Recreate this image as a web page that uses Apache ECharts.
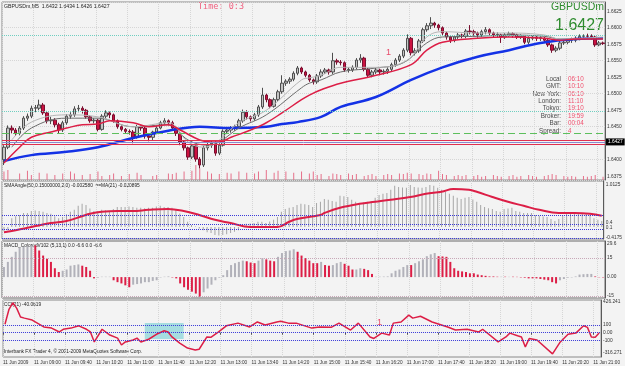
<!DOCTYPE html>
<html>
<head>
<meta charset="utf-8">
<title>GBPUSDm,M5</title>
<script src="https://cdn.jsdelivr.net/npm/echarts@6.0.0/dist/echarts.min.js"></script>
<style>
  html, body { margin: 0; padding: 0; background: #f3f3f3; }
  #chart { width: 625px; height: 366px; }
</style>
</head>
<body>
<div id="chart"></div>
<script>
// ---- data ----
var timeLabels = ['11 Jun 2009', '11 Jun 09:00', '11 Jun 09:40', '11 Jun 10:20', '11 Jun 11:00',
  '11 Jun 11:40', '11 Jun 12:20', '11 Jun 13:00', '11 Jun 13:40', '11 Jun 14:20', '11 Jun 15:00',
  '11 Jun 15:40', '11 Jun 16:20', '11 Jun 17:00', '11 Jun 17:40', '11 Jun 18:20', '11 Jun 19:00',
  '11 Jun 19:40', '11 Jun 20:20', '11 Jun 21:00'];

// [open, close, low, high]
var candles = [
  [1.6400,1.6419,1.6392,1.6422],[1.6419,1.6448,1.6416,1.6452],[1.6448,1.6445,1.6440,1.6452],[1.6445,1.6440,1.6436,1.6448],
  [1.6440,1.6448,1.6437,1.6451],[1.6448,1.6463,1.6445,1.6466],[1.6463,1.6466,1.6459,1.6470],[1.6466,1.6478,1.6463,1.6482],
  [1.6478,1.6479,1.6472,1.6483],[1.6478,1.6483,1.6475,1.6491],[1.6483,1.6471,1.6468,1.6486],[1.6471,1.6459,1.6455,1.6474],
  [1.6459,1.6460,1.6454,1.6465],[1.6460,1.6453,1.6449,1.6463],[1.6453,1.6445,1.6440,1.6456],[1.6445,1.6456,1.6442,1.6459],
  [1.6456,1.6466,1.6453,1.6469],[1.6466,1.6468,1.6462,1.6472],[1.6468,1.6477,1.6465,1.6481],[1.6477,1.6478,1.6472,1.6483],
  [1.6478,1.6475,1.6470,1.6481],[1.6475,1.6465,1.6462,1.6477],[1.6465,1.6459,1.6456,1.6467],[1.6459,1.6460,1.6455,1.6463],
  [1.6460,1.6446,1.6443,1.6462],[1.6446,1.6466,1.6444,1.6469],[1.6466,1.6471,1.6462,1.6475],[1.6471,1.6468,1.6463,1.6473],
  [1.6468,1.6459,1.6456,1.6470],[1.6459,1.6450,1.6447,1.6461],[1.6450,1.6446,1.6443,1.6452],[1.6446,1.6443,1.6439,1.6448],
  [1.6443,1.6442,1.6438,1.6446],[1.6442,1.6434,1.6425,1.6445],[1.6434,1.6450,1.6432,1.6453],[1.6450,1.6448,1.6444,1.6452],
  [1.6448,1.6436,1.6432,1.6450],[1.6436,1.6434,1.6428,1.6439],[1.6434,1.6442,1.6430,1.6444],[1.6442,1.6448,1.6440,1.6451],
  [1.6448,1.6456,1.6446,1.6459],[1.6456,1.6459,1.6453,1.6463],[1.6459,1.6456,1.6452,1.6461],[1.6456,1.6448,1.6445,1.6459],
  [1.6448,1.6440,1.6436,1.6450],[1.6440,1.6427,1.6422,1.6442],[1.6427,1.6418,1.6414,1.6429],[1.6418,1.6404,1.6400,1.6420],
  [1.6404,1.6421,1.6401,1.6424],[1.6421,1.6401,1.6397,1.6423],[1.6401,1.6392,1.6387,1.6404],[1.6392,1.6418,1.6389,1.6421],
  [1.6418,1.6422,1.6414,1.6426],[1.6422,1.6425,1.6418,1.6429],[1.6425,1.6410,1.6406,1.6428],[1.6410,1.6422,1.6407,1.6425],
  [1.6422,1.6443,1.6420,1.6446],[1.6443,1.6445,1.6439,1.6448],[1.6445,1.6448,1.6441,1.6451],[1.6448,1.6450,1.6444,1.6453],
  [1.6450,1.6459,1.6447,1.6462],[1.6459,1.6472,1.6456,1.6476],[1.6472,1.6465,1.6461,1.6475],[1.6465,1.6462,1.6458,1.6467],
  [1.6462,1.6468,1.6459,1.6471],[1.6468,1.6480,1.6465,1.6483],[1.6480,1.6498,1.6477,1.6509],[1.6498,1.6491,1.6487,1.6500],
  [1.6491,1.6481,1.6478,1.6493],[1.6481,1.6491,1.6479,1.6494],[1.6491,1.6503,1.6488,1.6506],[1.6503,1.6516,1.6500,1.6528],
  [1.6516,1.6519,1.6512,1.6522],[1.6519,1.6522,1.6515,1.6525],[1.6522,1.6531,1.6519,1.6534],[1.6531,1.6539,1.6528,1.6542],
  [1.6539,1.6533,1.6530,1.6541],[1.6533,1.6528,1.6525,1.6535],[1.6528,1.6521,1.6518,1.6530],[1.6521,1.6518,1.6514,1.6523],
  [1.6518,1.6527,1.6515,1.6530],[1.6527,1.6533,1.6524,1.6537],[1.6533,1.6536,1.6530,1.6539],[1.6536,1.6533,1.6529,1.6538],
  [1.6533,1.6550,1.6530,1.6562],[1.6550,1.6548,1.6544,1.6553],[1.6548,1.6547,1.6543,1.6551],[1.6547,1.6536,1.6533,1.6549],
  [1.6536,1.6537,1.6532,1.6540],[1.6536,1.6540,1.6533,1.6543],[1.6540,1.6551,1.6537,1.6554],[1.6551,1.6554,1.6547,1.6560],
  [1.6554,1.6537,1.6534,1.6556],[1.6537,1.6528,1.6524,1.6539],[1.6528,1.6533,1.6525,1.6536],[1.6533,1.6536,1.6530,1.6539],
  [1.6536,1.6533,1.6528,1.6538],[1.6533,1.6534,1.6529,1.6537],[1.6534,1.6537,1.6530,1.6540],[1.6537,1.6544,1.6534,1.6547],
  [1.6544,1.6551,1.6541,1.6554],[1.6551,1.6557,1.6548,1.6560],[1.6557,1.6566,1.6554,1.6569],[1.6566,1.6584,1.6563,1.6590],
  [1.6584,1.6562,1.6558,1.6586],[1.6562,1.6565,1.6558,1.6569],[1.6565,1.6580,1.6562,1.6583],[1.6580,1.6597,1.6577,1.6600],
  [1.6597,1.6603,1.6594,1.6607],[1.6603,1.6607,1.6598,1.6616],[1.6607,1.6604,1.6600,1.6609],[1.6604,1.6600,1.6596,1.6606],
  [1.6600,1.6592,1.6589,1.6602],[1.6592,1.6586,1.6582,1.6594],[1.6586,1.6581,1.6577,1.6588],[1.6581,1.6586,1.6578,1.6589],
  [1.6586,1.6589,1.6583,1.6592],[1.6589,1.6587,1.6584,1.6591],[1.6587,1.6595,1.6584,1.6598],[1.6595,1.6594,1.6590,1.6604],
  [1.6594,1.6592,1.6588,1.6597],[1.6592,1.6589,1.6585,1.6594],[1.6589,1.6594,1.6586,1.6597],[1.6594,1.6597,1.6590,1.6601],
  [1.6597,1.6592,1.6589,1.6599],[1.6592,1.6589,1.6585,1.6594],[1.6589,1.6590,1.6585,1.6593],[1.6589,1.6586,1.6577,1.6591],
  [1.6586,1.6589,1.6583,1.6592],[1.6589,1.6591,1.6586,1.6594],[1.6591,1.6589,1.6585,1.6593],[1.6589,1.6586,1.6583,1.6591],
  [1.6586,1.6587,1.6583,1.6590],[1.6587,1.6578,1.6575,1.6589],[1.6578,1.6584,1.6575,1.6587],[1.6584,1.6586,1.6581,1.6589],
  [1.6586,1.6584,1.6580,1.6588],[1.6584,1.6585,1.6580,1.6587],[1.6584,1.6581,1.6577,1.6586],[1.6581,1.6574,1.6571,1.6583],
  [1.6574,1.6566,1.6562,1.6576],[1.6566,1.6569,1.6563,1.6572],[1.6569,1.6577,1.6566,1.6580],[1.6577,1.6578,1.6574,1.6582],
  [1.6578,1.6581,1.6575,1.6584],[1.6581,1.6582,1.6577,1.6585],[1.6581,1.6584,1.6578,1.6587],[1.6584,1.6587,1.6581,1.6590],
  [1.6587,1.6588,1.6583,1.6590],[1.6587,1.6587,1.6584,1.6591],[1.6587,1.6586,1.6582,1.6590],[1.6586,1.6574,1.6571,1.6588],
  [1.6574,1.6577,1.6572,1.6580],[1.6577,1.6576,1.6574,1.6579]
];

// moving averages, [bar, price]
var maBlue = [[0,1.6398],[7,1.6407],[16,1.6412],[24,1.6419],[33,1.6433],[42,1.6444],[50,1.6450],[58,1.6448],[67,1.6450],
  [71,1.6454],[75,1.6457],[81,1.6465],[86,1.6480],[95,1.6495],[104,1.6521],[112,1.6540],[121,1.6556],[129,1.6566],
  [137,1.6577],[146,1.6583],[153,1.6584]];
var maRed = [[0,1.6395],[4,1.6419],[7,1.6434],[12,1.6442],[16,1.6448],[20,1.6453],[24,1.6454],[27,1.6459],[33,1.6456],
  [37,1.6450],[42,1.6453],[45,1.6445],[50,1.6430],[53,1.6427],[55,1.6427],[58,1.6434],[63,1.6445],[67,1.6456],[71,1.6471],
  [76,1.6491],[78,1.6498],[81,1.6506],[86,1.6516],[95,1.6528],[104,1.6544],[108,1.6566],[112,1.6578],[121,1.6584],
  [129,1.6586],[138,1.6584],[142,1.6581],[146,1.6583],[153,1.6583]];
var maDark = [[2,1.6419],[7,1.6448],[16,1.6463],[24,1.6463],[33,1.6450],[42,1.6453],[47,1.6430],[52,1.6422],[55,1.6427],
  [60,1.6448],[67,1.6468],[76,1.6509],[78,1.6516],[81,1.6521],[86,1.6533],[95,1.6539],[102,1.6547],[108,1.6577],
  [112,1.6586],[121,1.6587],[129,1.6589],[138,1.6587],[142,1.6583],[153,1.6584]];
var maLight = [[2,1.6430],[7,1.6457],[16,1.6468],[24,1.6465],[33,1.6450],[42,1.6456],[47,1.6427],[51,1.6419],[55,1.6430],
  [60,1.6456],[67,1.6475],[76,1.6521],[78,1.6524],[81,1.6528],[86,1.6540],[95,1.6540],[103,1.6551],[108,1.6586],
  [112,1.6594],[121,1.6592],[129,1.6592],[138,1.6589],[142,1.6583],[153,1.6586]];

// tick volume, [bar, ticks]
var volume = [[0,66],[1,79],[4,52],[6,73],[7,39],[9,58],[11,52],[13,39],[15,52],[17,66],[18,52],[20,39],[22,47],[24,66],
  [25,31],[27,39],[28,52],[30,31],[32,47],[34,58],[35,39],[38,31],[39,39],[42,52],[43,47],[44,58],[46,66],[48,73],[49,118],
  [50,92],[52,66],[53,52],[55,47],[57,58],[58,52],[60,66],[62,58],[64,52],[65,66],[67,79],[69,58],[70,73],[72,66],[74,58],
  [76,66],[78,52],[79,66],[80,39],[81,47],[83,31],[84,52],[85,47],[86,39],[88,52],[89,39],[90,47],[92,31],[93,39],[94,47],
  [95,31],[97,39],[98,47],[99,39],[101,52],[102,47],[103,58],[104,52],[106,47],[107,39],[108,52],[109,47],[111,73],[112,47],
  [113,39],[115,31],[116,39],[117,31],[118,39],[120,31],[121,39],[122,26],[123,31],[125,39],[126,31],[127,26],[129,31],
  [130,39],[131,26],[132,31],[134,39],[135,31],[136,26],[138,31],[139,39],[140,47],[141,39],[143,31],[144,26],[145,31],
  [146,26],[148,31],[149,26],[150,31],[151,39],[153,26]];

// SMAAngle histogram (one per bar) and its MA line
var smaHist = [-0.10,-0.08,0.22,0.27,0.30,0.35,0.35,0.40,0.41,0.40,0.38,0.35,0.33,0.27,0.22,0.25,0.32,0.38,0.43,0.53,
  0.58,0.55,0.46,0.40,0.40,0.43,0.42,0.40,0.45,0.50,0.50,0.50,0.51,0.50,0.48,0.48,0.47,0.48,0.48,0.51,
  0.53,0.50,0.50,0.48,0.43,0.34,0.25,0.13,0.05,0.01,-0.04,-0.08,-0.13,-0.15,-0.20,-0.21,-0.20,-0.18,-0.15,-0.12,
  -0.08,0.01,0.08,0.09,0.10,0.13,0.13,0.10,0.14,0.18,0.25,0.38,0.45,0.48,0.50,0.55,0.58,0.57,0.55,0.50,
  0.60,0.63,0.70,0.68,0.65,0.63,0.78,0.77,0.75,0.68,0.63,0.60,0.61,0.63,0.65,0.73,0.80,0.83,0.85,0.93,
  1.03,1.00,0.99,0.98,1.05,1.00,0.99,0.98,1.00,1.05,1.03,0.98,0.93,0.88,0.83,0.78,0.73,0.70,0.73,0.75,
  0.69,0.63,0.55,0.50,0.47,0.45,0.40,0.38,0.45,0.46,0.48,0.40,0.38,0.35,0.35,0.35,0.30,0.28,0.26,0.25,
  0.20,0.15,0.20,0.28,0.35,0.35,0.35,0.35,0.34,0.33,0.30,0.22,0.18,0.15];
var smaLine = [[0,-0.13],[3,-0.08],[7,0],[12,0.10],[16,0.15],[20,0.27],[22,0.33],[25,0.38],[29,0.40],[33,0.40],[37,0.43],
  [42,0.45],[46,0.40],[50,0.30],[54,0.18],[58,0.10],[63,0],[67,0],[70,0],[73,0.13],[75,0.20],[81,0.30],[82,0.35],[86,0.48],
  [91,0.58],[95,0.63],[99,0.68],[104,0.75],[108,0.83],[112,0.88],[115,0.95],[119,0.93],[121,0.88],[125,0.75],[129,0.63],
  [133,0.53],[137,0.43],[142,0.35],[146,0.35],[150,0.33],[153,0.28]];

// MACD_ColoredV102 histogram, split by colour
var macdUp = [[0,8],[1,12],[2,16],[3,20],[4,23],[5,24],[6,24.5],[7,25],[15,5],[16,6],[17,9],[18,9.5],[19,10],[24,-0.5],
  [25,0.3],[26,0.3],[27,0.3],[33,-6],[34,-5.5],[35,-5],[36,-4],[37,-4],[38,-3],[39,-2.5],[40,-0.3],[41,0.3],[42,0.5],
  [51,-12],[52,-9],[53,-6],[54,-2.5],[55,-0.5],[56,1.5],[57,5.5],[58,9.5],[59,11],[60,12],[61,13],[65,13],[66,15],[70,16],
  [71,19],[72,20.5],[73,21],[74,22],[81,12],[84,9.5],[85,11],[86,12],[90,6],[91,7],[95,0.3],[96,0.3],[97,0.4],[98,0.5],
  [99,3],[100,5],[101,6],[102,8],[103,9.5],[105,11],[106,12.5],[107,14],[108,16.5],[109,18],[110,19],[127,0.3],[129,0.2],
  [142,-2.5],[143,-1.5],[144,-0.5],[145,-0.3],[146,0.5],[147,2],[148,2.3],[149,2.5],[150,2.5]];
var macdDown = [[8,25],[9,21],[10,17],[11,14.5],[12,12],[13,7],[14,4],[20,9],[21,8],[22,5],[23,-1],[28,-2.5],[29,-4],
  [30,-5],[31,-6.5],[32,-8],[43,-0.3],[44,-1],[45,-5],[46,-8],[47,-10],[48,-11.5],[49,-13],[50,-15.5],[62,12.5],[63,11.5],
  [64,11],[67,14],[68,13],[69,12.5],[75,20],[76,17],[77,15],[78,13],[79,11],[80,11],[82,9.5],[83,9],[87,10.5],[88,9],
  [89,6],[92,6.5],[93,5.5],[94,2.5],[104,9.5],[111,16.5],[112,16.3],[113,16],[114,12],[115,7],[116,5],[117,4.5],[118,4],
  [119,3],[120,3],[121,2],[122,1.5],[123,1],[124,0.5],[125,0.5],[126,0.3],[128,0.3],[130,0.3],[131,0.2],[132,-0.3],
  [133,-0.5],[134,-1],[135,-1],[136,-1],[137,-1.5],[138,-2],[139,-2.5],[140,-4],[141,-5],[151,0.5],[152,-0.2],[153,-0.3]];

// CCI(21)
var cci = [[0,110],[1,300],[2,390],[3,320],[4,205],[5,190],[7,165],[10,75],[12,60],[14,10],[15,45],[17,60],[19,90],
  [21,45],[22,10],[23,-120],[25,45],[27,-30],[29,-70],[30,-160],[31,-120],[33,-95],[34,-70],[35,-120],[37,-85],[39,-20],
  [41,25],[42,10],[43,-55],[45,-135],[47,-200],[49,-225],[50,-215],[52,-55],[53,-60],[55,10],[57,90],[60,125],[63,75],
  [65,140],[67,100],[70,140],[71,150],[73,125],[75,125],[79,60],[81,75],[84,70],[86,125],[89,35],[91,125],[94,-55],
  [95,-75],[97,-5],[99,-30],[100,125],[102,140],[104,230],[105,190],[107,215],[110,140],[114,75],[116,35],[119,45],
  [122,10],[123,45],[127,-120],[129,-55],[130,-5],[132,-40],[133,-55],[134,-185],[135,-75],[137,-95],[141,-275],
  [143,-120],[145,-20],[147,-5],[149,90],[150,70],[151,-55],[152,-60],[153,-5]];

// price levels drawn across the main window
var levelsCyan = [1.6589, 1.6474];
var levelGreen = 1.6440;
var levelsRed = [1.6430, 1.6424];
var lastPrice = 1.6427;

// right axis labels
var priceTicks = [1.6375, 1.6400, 1.6450, 1.6475, 1.6500, 1.6525, 1.6550, 1.6575, 1.6600, 1.6625];
var smaTicks = [1.05, 0.1, -0.025, -0.275];
var smaTickText = ['1.0125', '0.4', '0.1', '-0.4175'];
var macdTicks = [26.4, 15, 0, -15];
var macdTickText = ['29.6', '15', '0.00', '-15'];
var cciTicks = [400, 100, 0, -100, -264];
var cciTickText = ['426.241', '100', '0.00', '-100', '-316.271'];

var infoNames = ['Local', 'GMT:', 'New York:', 'London:', 'Tokyo:', 'Broker:', 'Bar:', 'Spread:'];
var infoValues = ['06:10', '10:10', '06:10', '11:10', '19:10', '19:59', '00:04', '4'];

// ---- chart ----
var SMALL = "'Liberation Sans', Arial, sans-serif";
var CRIMSON = '#dc1e46';
var bars = candles.map(function (c, i) { return i; });

function xAxisFor(gi, showLabels) {
  return {
    type: 'category', gridIndex: gi, data: bars, boundaryGap: true,
    axisLine: { show: false },
    axisTick: { show: showLabels, interval: 7, length: 2, lineStyle: { color: '#555' } },
    axisLabel: {
      show: showLabels, interval: 7, align: 'left', fontSize: 4.7, color: '#333',
      fontFamily: SMALL, margin: 3, padding: [0, 0, 0, -2],
      formatter: function (v, i) { return timeLabels[i / 8] || ''; }
    },
    splitLine: { show: true, interval: 7, lineStyle: { color: '#d6d6d6', type: 'dotted' } }
  };
}

function yAxisFor(gi, min, max, ticks, fmt) {
  return {
    type: 'value', gridIndex: gi, position: 'right', min: min, max: max,
    axisLine: { show: true, lineStyle: { color: '#5a5a5a' } },
    axisTick: { show: false },
    axisLabel: { customValues: ticks, formatter: fmt, fontSize: 4.8, color: '#333', fontFamily: SMALL, margin: 2 },
    splitLine: { show: gi === 0, lineStyle: { color: '#d6d6d6', type: 'dotted' } }
  };
}

function pick(ticks, texts) {
  return function (v) { var k = ticks.indexOf(v); return k < 0 ? '' : texts[k]; };
}

function hLine(val, color, type) {
  return { yAxis: val, lineStyle: { color: color, width: 1, type: type }, label: { show: false } };
}

var graphics = [
  { type: 'text', x: 4, y: 7, style: { text: 'GBPUSDm,M5  1.6432 1.6434 1.6426 1.6427', fill: '#222',
    fontSize: 5.2, fontFamily: SMALL, verticalAlign: 'middle', textVerticalAlign: 'middle' } },
  { type: 'text', x: 198, y: 7, style: { text: 'Time: 0:3', fill: '#f0607f',
    fontSize: 8.5, fontFamily: "'DejaVu Sans Mono', monospace", verticalAlign: 'middle', textVerticalAlign: 'middle' } },
  { type: 'text', x: 604, y: 7, style: { text: 'GBPUSDm', fill: '#2e8b2e', fontSize: 10.5,
    fontFamily: "'Liberation Sans', Arial", align: 'right', textAlign: 'right', verticalAlign: 'middle', textVerticalAlign: 'middle' } },
  { type: 'text', x: 604, y: 26, style: { text: '1.6427', fill: '#2e8b2e', fontSize: 16,
    fontFamily: "'Liberation Sans', Arial", align: 'right', textAlign: 'right', verticalAlign: 'middle', textVerticalAlign: 'middle' } },
  { type: 'text', x: 386, y: 53, style: { text: '1', fill: '#e84a6a', fontSize: 9, fontFamily: "'Liberation Sans', Arial",
    verticalAlign: 'middle', textVerticalAlign: 'middle' } },
  { type: 'text', x: 4, y: 186, style: { text: 'SMAAngle(50,0.15000000,2,0) -0.002580  ==MA(21) -0.020895', fill: '#222',
    fontSize: 4.8, fontFamily: SMALL, verticalAlign: 'middle', textVerticalAlign: 'middle' } },
  { type: 'text', x: 4, y: 246, style: { text: 'MACD_ColoredV102 (5,13,1) 0.0 -6.6 0.0 -6.6', fill: '#222',
    fontSize: 4.8, fontFamily: SMALL, verticalAlign: 'middle', textVerticalAlign: 'middle' } },
  { type: 'text', x: 4, y: 305, style: { text: 'CCI(21) -40.0619', fill: '#222',
    fontSize: 4.8, fontFamily: SMALL, verticalAlign: 'middle', textVerticalAlign: 'middle' } },
  { type: 'text', x: 377, y: 323, style: { text: '1', fill: '#e84a6a', fontSize: 9, fontFamily: "'Liberation Sans', Arial",
    verticalAlign: 'middle', textVerticalAlign: 'middle' } },
  { type: 'text', x: 4, y: 352, style: { text: 'Interbank FX Trader 4, \u00a9 2001-2009 MetaQuotes Software Corp.', fill: '#222',
    fontSize: 4.8, fontFamily: SMALL, verticalAlign: 'middle', textVerticalAlign: 'middle' } }
];
infoNames.forEach(function (name, k) {
  var y = 79 + k * 7.4;
  graphics.push({ type: 'text', x: 561, y: y, style: { text: name, fill: '#4a4a4a', fontSize: 6.3, fontFamily: SMALL,
    align: 'right', textAlign: 'right', verticalAlign: 'middle', textVerticalAlign: 'middle' } });
  graphics.push({ type: 'text', x: 568, y: y, style: { text: infoValues[k], fill: '#f0506e', fontSize: 6.3, fontFamily: SMALL,
    verticalAlign: 'middle', textVerticalAlign: 'middle' } });
});

var option = {
  animation: false,
  backgroundColor: '#f3f3f3',
  grid: [
    { left: 2, right: 20, top: 2, height: 178, show: true, borderColor: '#8a8a8a', borderWidth: 1 },
    { left: 2, right: 20, top: 181, height: 58, show: true, borderColor: '#8a8a8a', borderWidth: 1 },
    { left: 2, right: 20, top: 241, height: 57, show: true, borderColor: '#6a6a6a', borderWidth: 1 },
    { left: 2, right: 20, top: 300, height: 57, show: true, borderColor: '#8a8a8a', borderWidth: 1 }
  ],
  xAxis: [xAxisFor(0, false), xAxisFor(1, false), xAxisFor(2, false), xAxisFor(3, true)],
  yAxis: [
    yAxisFor(0, 1.63693, 1.66390, priceTicks, function (v) { return v.toFixed(4); }),
    { type: 'value', gridIndex: 0, min: 0, max: 1400, show: false },
    yAxisFor(1, -0.3, 1.15, smaTicks, pick(smaTicks, smaTickText)),
    yAxisFor(2, -16.5, 28.5, macdTicks, pick(macdTicks, macdTickText)),
    yAxisFor(3, -316.271, 426.241, cciTicks, pick(cciTicks, cciTickText))
  ],
  graphic: graphics,
  series: [
    {
      name: 'Volume', type: 'bar', xAxisIndex: 0, yAxisIndex: 1, data: volume, barWidth: 1,
      itemStyle: { color: '#e6708a' }, silent: true
    },
    {
      name: 'GBPUSDm', type: 'candlestick', xAxisIndex: 0, yAxisIndex: 0, data: candles, barWidth: 3,
      itemStyle: { color: '#c4c4c4', color0: '#cc1240', borderColor: '#4e4e4e', borderColor0: '#7a1030', borderWidth: 1 },
      markLine: {
        symbol: 'none', silent: true, animation: false, precision: 4,
        data: [
          hLine(levelsCyan[0], '#6fcfc0', 'dotted'),
          hLine(levelsCyan[1], '#6fcfc0', 'dotted'),
          hLine(levelGreen, '#5cbf5c', [7, 4]),
          hLine(levelsRed[0], '#e0304f', 'solid'),
          hLine(levelsRed[1], '#e0304f', 'solid'),
          { yAxis: lastPrice, lineStyle: { color: '#8a8ad0', width: 1, type: 'solid' },
            label: { show: true, position: 'end', formatter: '1.6427', backgroundColor: '#000', color: '#fff',
              fontSize: 4.8, fontFamily: SMALL, padding: [1, 2], distance: 1 } }
        ]
      }
    },
    { name: 'MA slow', type: 'line', xAxisIndex: 0, yAxisIndex: 0, data: maBlue, smooth: 0.4, symbol: 'none',
      lineStyle: { color: '#1432e6', width: 2.5 } },
    { name: 'MA dark', type: 'line', xAxisIndex: 0, yAxisIndex: 0, data: maDark, smooth: 0.4, symbol: 'none',
      lineStyle: { color: '#6c6c6c', width: 1 } },
    { name: 'MA light', type: 'line', xAxisIndex: 0, yAxisIndex: 0, data: maLight, smooth: 0.4, symbol: 'none',
      lineStyle: { color: '#b6b6b6', width: 1 } },
    { name: 'MA red', type: 'line', xAxisIndex: 0, yAxisIndex: 0, data: maRed, smooth: 0.4, symbol: 'none',
      lineStyle: { color: CRIMSON, width: 1.5 } },
    {
      name: 'SMAAngle', type: 'bar', xAxisIndex: 1, yAxisIndex: 2, data: smaHist, barWidth: 1,
      itemStyle: { color: '#a6a6a6' },
      markLine: {
        symbol: 'none', silent: true, label: { show: false }, precision: 4,
        lineStyle: { color: '#3a3ad8', type: 'dotted', width: 1 },
        data: [{ yAxis: 0.3 }, { yAxis: 0.075 }, { yAxis: -0.05 }, { yAxis: -0.29 }]
      }
    },
    { name: 'SMA MA', type: 'line', xAxisIndex: 1, yAxisIndex: 2, data: smaLine, smooth: 0.4, symbol: 'none',
      lineStyle: { color: CRIMSON, width: 2 } },
    {
      name: 'MACD up', type: 'bar', xAxisIndex: 2, yAxisIndex: 3, data: macdUp, barWidth: 2, barGap: '-100%',
      itemStyle: { color: '#b2b2ba' },
      markLine: {
        symbol: 'none', silent: true, label: { show: false }, precision: 4,
        lineStyle: { color: '#c8a8b8', type: 'dotted', width: 1 },
        data: [{ yAxis: 15 }, { yAxis: -15 }]
      }
    },
    { name: 'MACD down', type: 'bar', xAxisIndex: 2, yAxisIndex: 3, data: macdDown, barWidth: 2, barGap: '-100%',
      itemStyle: { color: CRIMSON } },
    {
      name: 'CCI', type: 'line', xAxisIndex: 3, yAxisIndex: 4, data: cci, symbol: 'none',
      lineStyle: { color: CRIMSON, width: 1.5 },
      markLine: {
        symbol: 'none', silent: true, label: { show: false }, precision: 4,
        lineStyle: { color: '#3a3ad8', type: 'dotted', width: 1 },
        data: [{ yAxis: 100 }, { yAxis: 0 }, { yAxis: -100 }]
      },
      markArea: {
        silent: true, itemStyle: { color: '#a6dde0' },
        data: [[{ xAxis: 36, yAxis: 126 }, { xAxis: 46, yAxis: -82 }]]
      }
    }
  ]
};

var chart = echarts.init(document.getElementById('chart'));
chart.setOption(option);
</script>
</body>
</html>
